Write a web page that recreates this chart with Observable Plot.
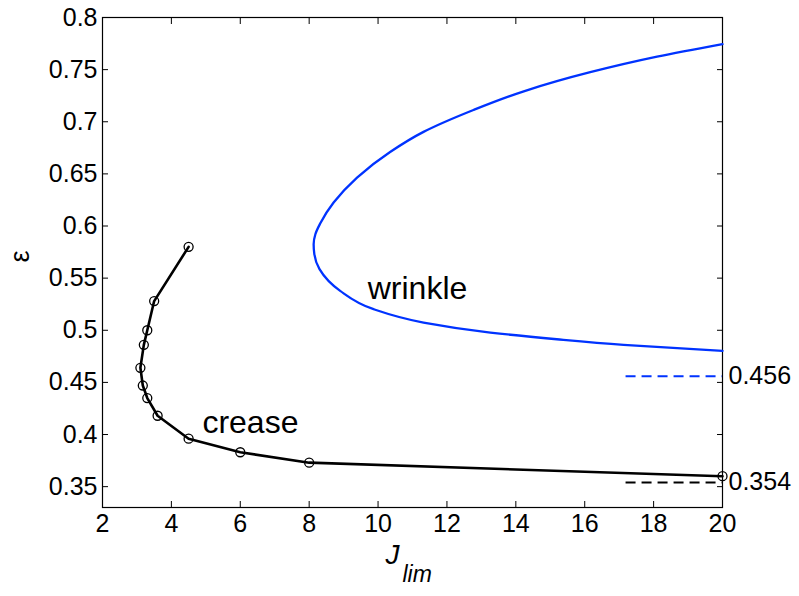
<!DOCTYPE html>
<html>
<head>
<meta charset="utf-8">
<script src="https://cdn.jsdelivr.net/npm/d3@7"></script>
<script src="https://cdn.jsdelivr.net/npm/@observablehq/plot@0.6"></script>
<style>
  html, body { margin: 0; padding: 0; background: #fff; }
  #chart { width: 799px; height: 596px; }
</style>
</head>
<body>
<div id="chart"></div>
<script>
// ---- data ----
const creaseJ   = [4.5, 3.5, 3.3, 3.2, 3.1, 3.17, 3.3, 3.6, 4.5, 6.0, 8.0, 20.0];
const creaseEps = [0.580, 0.528, 0.500, 0.486, 0.464, 0.447, 0.435, 0.418, 0.396, 0.383, 0.373, 0.360];

// wrinkle curve, from the lower-right end round the nose to the upper-right end
const wrinkleJ   = [20.0, 17.13, 15.19, 13.26, 11.32, 9.87, 8.90, 8.30, 8.15, 8.13, 8.18, 8.32, 8.71, 9.39, 10.35, 11.32, 12.77, 14.23, 16.16, 18.10, 20.0];
const wrinkleEps = [0.4802, 0.4860, 0.4914, 0.4978, 0.5074, 0.5202, 0.5378, 0.5586, 0.5730, 0.5826, 0.5921, 0.6024, 0.6225, 0.6465, 0.6710, 0.6903, 0.7113, 0.7292, 0.7475, 0.7624, 0.7745];

const limitValues = [0.456, 0.354];
const limitLabels = ["0.456", "0.354"];
const limitColors = ["#0033ff", "#000000"];
const limitFromJ  = [17.2, 17.2];
const limitToJ    = [20, 20];

const seriesNames  = ["crease", "wrinkle"];
const seriesNameJ  = [4.9, 9.7];
const seriesNameEp = [0.411, 0.540];

const xTicks = [2, 4, 6, 8, 10, 12, 14, 16, 18, 20];
const yTicks = [0.35, 0.4, 0.45, 0.5, 0.55, 0.6, 0.65, 0.7, 0.75, 0.8];
const xDomain = [2, 20];
const yDomain = [0.33, 0.8];

// ---- tables built from the arrays ----
const crease  = creaseJ.map((j, i) => ({J: j, eps: creaseEps[i]}));
const wrinkle = wrinkleJ.map((j, i) => ({J: j, eps: wrinkleEps[i]}));
const limits  = limitValues.map((v, i) => ({v, label: limitLabels[i], color: limitColors[i], x1: limitFromJ[i], x2: limitToJ[i]}));
const names   = seriesNames.map((n, i) => ({n, J: seriesNameJ[i], eps: seriesNameEp[i]}));

const FONT = "'Liberation Sans', Arial, Helvetica, sans-serif";
const fmt = d => String(+d.toFixed(2));

const chart = Plot.plot({
  width: 799,
  height: 596,
  marginLeft: 102,
  marginRight: 77,
  marginTop: 17,
  marginBottom: 89,
  style: { fontFamily: FONT, fontSize: "25px", color: "black", background: "white", overflow: "visible" },
  x: { domain: xDomain },
  y: { domain: yDomain },
  marks: [
    Plot.frame({ stroke: "black", strokeWidth: 1.2 }),
    Plot.axisX(xTicks, { anchor: "bottom", tickSize: -6, tickPadding: 13, label: null, fontSize: 25, tickFormat: fmt, stroke: "black", strokeWidth: 1 }),
    Plot.axisX(xTicks, { anchor: "top", tickSize: -6, tickFormat: () => "", label: null, stroke: "black" }),
    Plot.axisY(yTicks, { anchor: "left", tickSize: -6, tickPadding: 11, label: null, fontSize: 25, tickFormat: fmt, stroke: "black" }),
    Plot.axisY(yTicks, { anchor: "right", tickSize: -6, tickFormat: () => "", label: null, stroke: "black" }),

    Plot.line(wrinkle, { x: "J", y: "eps", stroke: "#0033ff", strokeWidth: 2.3, curve: "monotone-y" }),
    Plot.line(crease, { x: "J", y: "eps", stroke: "black", strokeWidth: 2.6, curve: "linear" }),
    Plot.dot(crease, { x: "J", y: "eps", r: 4.5, stroke: "black", strokeWidth: 1.3, fill: "none" }),

    Plot.ruleY(limits, { y: "v", x1: "x1", x2: "x2", stroke: "color", strokeWidth: 2, strokeDasharray: "10,6" }),
    Plot.text(limits, { x: d => d.x2, y: "v", text: "label", textAnchor: "start", dx: 6, fontSize: 25, fill: "black" }),

    Plot.text(names, { x: "J", y: "eps", text: "n", textAnchor: "start", fontSize: 32, fill: "black" }),

    Plot.text(["ε"], { frameAnchor: "left", dx: -82, rotate: -90, fontSize: 27, fill: "black" }),
    Plot.text(["J"], { frameAnchor: "bottom", dx: -20, dy: 56, fontSize: 28, fontStyle: "italic", fill: "black" }),
    Plot.text(["lim"], { frameAnchor: "bottom", dx: -10, dy: 74, textAnchor: "start", fontSize: 23, fontStyle: "italic", fill: "black" })
  ]
});
document.getElementById("chart").appendChild(chart);
</script>
</body>
</html>
